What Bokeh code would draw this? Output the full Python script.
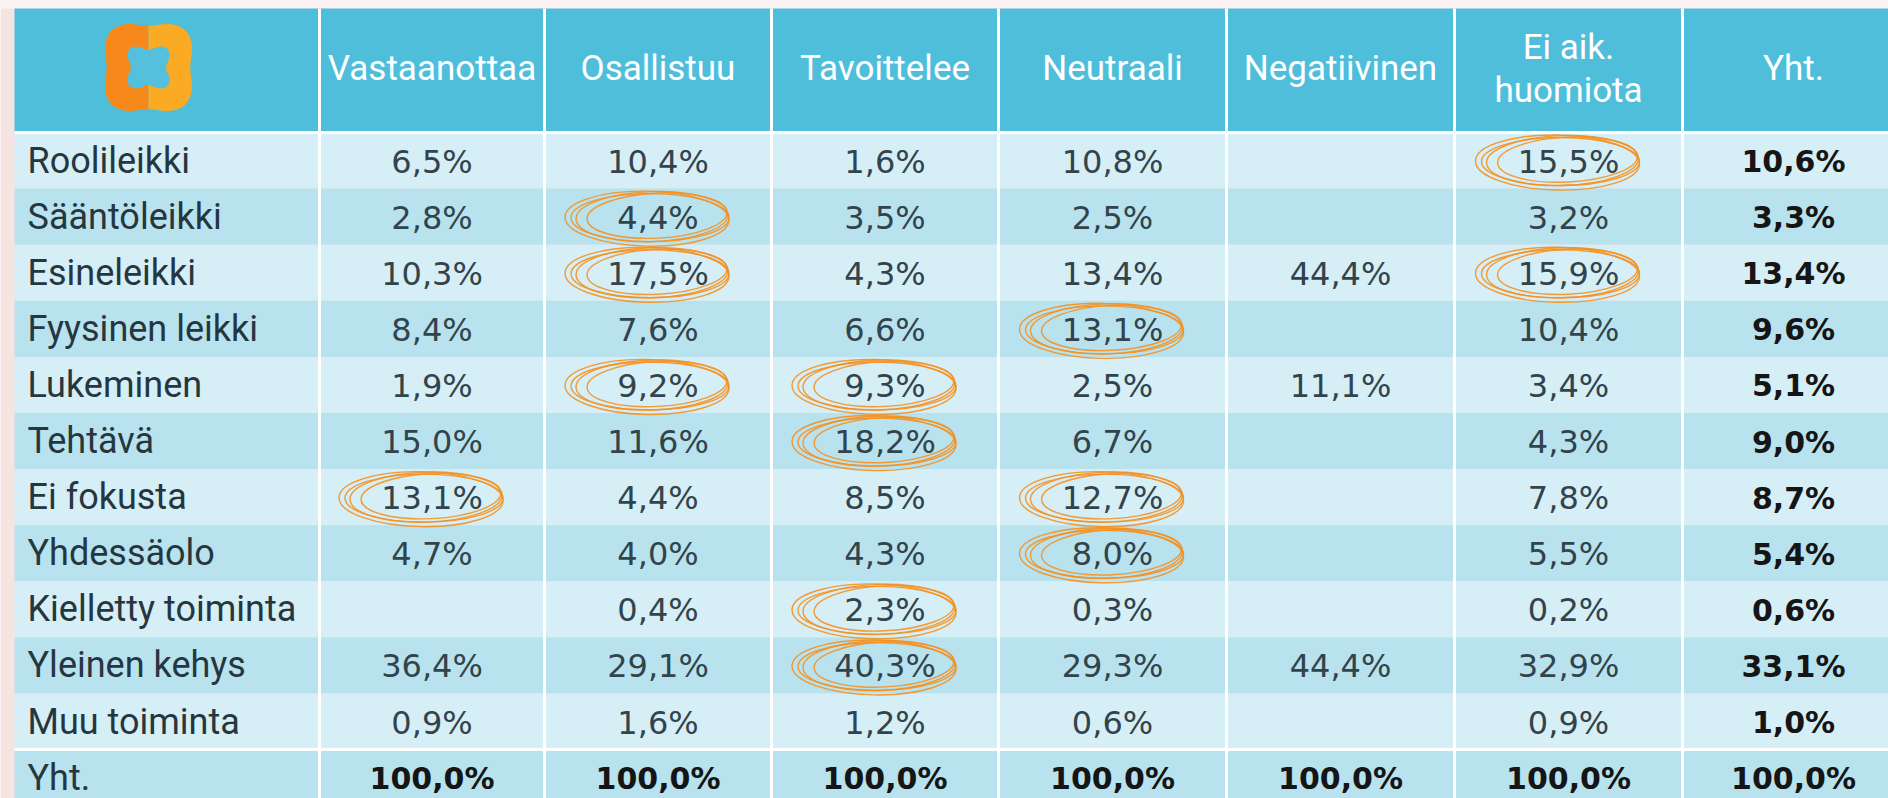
import numpy as np
from bokeh.plotting import figure
from bokeh.models import Range1d
from bokeh.core.properties import value
from bokeh.embed import file_html
from bokeh.resources import INLINE

# ---------------- data ----------------
columns = ["Vastaanottaa", "Osallistuu", "Tavoittelee", "Neutraali",
           "Negatiivinen", "Ei aik.\nhuomiota", "Yht."]
rows = ["Roolileikki", "Sääntöleikki", "Esineleikki", "Fyysinen leikki",
        "Lukeminen", "Tehtävä", "Ei fokusta", "Yhdessäolo",
        "Kielletty toiminta", "Yleinen kehys", "Muu toiminta", "Yht."]

vastaanottaa = [6.5, 2.8, 10.3, 8.4, 1.9, 15.0, 13.1, 4.7, None, 36.4, 0.9, 100.0]
osallistuu = [10.4, 4.4, 17.5, 7.6, 9.2, 11.6, 4.4, 4.0, 0.4, 29.1, 1.6, 100.0]
tavoittelee = [1.6, 3.5, 4.3, 6.6, 9.3, 18.2, 8.5, 4.3, 2.3, 40.3, 1.2, 100.0]
neutraali = [10.8, 2.5, 13.4, 13.1, 2.5, 6.7, 12.7, 8.0, 0.3, 29.3, 0.6, 100.0]
negatiivinen = [None, None, 44.4, None, 11.1, None, None, None, None, 44.4, None, 100.0]
ei_aik_huomiota = [15.5, 3.2, 15.9, 10.4, 3.4, 4.3, 7.8, 5.5, 0.2, 32.9, 0.9, 100.0]
yht = [10.6, 3.3, 13.4, 9.6, 5.1, 9.0, 8.7, 5.4, 0.6, 33.1, 1.0, 100.0]

series = [vastaanottaa, osallistuu, tavoittelee, neutraali,
          negatiivinen, ei_aik_huomiota, yht]

# circled cells: (row index, column index)
circled = [(0, 5), (1, 1), (2, 1), (2, 5), (3, 3), (4, 1), (4, 2),
           (5, 2), (6, 0), (6, 3), (7, 3), (8, 2), (9, 2)]

# ---------------- layout ----------------
W, H = 1888, 798
col_edges = [14, 319, 544, 771, 998, 1226, 1454, 1682, 1904]
table_top = 8
header_bottom = 132
row_h = 56.1

HEADER = "#4FBEDB"
LIGHT = "#D6EEF6"
DARK = "#B8E2EE"
ORANGE = "#F5901F"

p = figure(width=W, height=H, x_range=Range1d(0, W), y_range=Range1d(H, 0),
           output_backend="svg", toolbar_location=None, min_border=0,
           x_axis_location=None, y_axis_location=None)
p.grid.visible = False
p.outline_line_color = None
p.background_fill_color = "#F6E4E2"
p.border_fill_color = "#F6E4E2"

fmt = lambda v: "" if v is None else f"{v:.1f}".replace(".", ",") + "%"

# white strip above table
p.quad(left=[0], right=[W], top=[0], bottom=[table_top],
       fill_color="#FBF3F2", line_color=None)

# header band
p.quad(left=[col_edges[0]], right=[col_edges[-1]], top=[table_top],
       bottom=[header_bottom], fill_color=HEADER, line_color=None)

# body rows
tops = [header_bottom + i * row_h for i in range(len(rows))]
p.quad(left=[col_edges[0]] * len(rows), right=[col_edges[-1]] * len(rows),
       top=tops, bottom=[t + row_h for t in tops],
       fill_color=[LIGHT if i % 2 == 0 else DARK for i in range(len(rows))],
       line_color=None)

# white grid lines
p.segment(x0=col_edges[1:-1], y0=[table_top] * (len(col_edges) - 2),
          x1=col_edges[1:-1], y1=[H] * (len(col_edges) - 2),
          line_color="white", line_width=3)
p.segment(x0=[col_edges[0]] * 2, y0=[header_bottom, tops[-1]],
          x1=[col_edges[-1]] * 2, y1=[header_bottom, tops[-1]],
          line_color="white", line_width=3)

# logo
cx, cy = 148, 67
th_r = np.linspace(-np.pi / 2, np.pi / 2, 80)
th_l = np.linspace(np.pi / 2, 3 * np.pi / 2, 80)
r_out = lambda t: 47 * (1 - 0.11 * np.cos(4 * t))
p.patch(cx + r_out(th_l) * np.cos(th_l), cy + r_out(th_l) * np.sin(th_l),
        fill_color="#F7891A", line_color=None)
p.patch(cx + r_out(th_r) * np.cos(th_r), cy + r_out(th_r) * np.sin(th_r),
        fill_color="#FBAA24", line_color=None)
th = np.linspace(0, 2 * np.pi, 160)
r_in = 22 * (1 - 0.2 * np.cos(4 * th))
p.patch(cx + r_in * np.cos(th), cy + r_in * np.sin(th),
        fill_color="#54C0DE", line_color=None)

centers = [(col_edges[k] + col_edges[k + 1]) / 2 for k in range(1, len(col_edges) - 1)]
row_c = [t + row_h / 2 for t in tops]

# header texts
hx, hy, ht = [], [], []
for c, name in zip(centers, columns):
    parts = name.split("\n")
    if len(parts) == 1:
        hx.append(c); hy.append(68); ht.append(parts[0])
    else:
        for j, part in enumerate(parts):
            hx.append(c); hy.append(47 + 43 * j); ht.append(part)
p.text(hx, hy, ht, text_color="white", text_font=value("Roboto"),
       text_font_size="35px", text_align="center", text_baseline="middle")

# row labels
p.text([27] * len(rows), row_c, rows, text_color="#26363E",
       text_font=value("Roboto"), text_font_size="36px",
       text_align="left", text_baseline="middle")

# values
nx, ny, nt, bx, by, bt = [], [], [], [], [], []
for k, vals in enumerate(series):
    for i, v in enumerate(vals):
        if v is None:
            continue
        if k == len(series) - 1 or i == len(rows) - 1:
            bx.append(centers[k]); by.append(row_c[i] + 1); bt.append(fmt(v))
        else:
            nx.append(centers[k]); ny.append(row_c[i] + 1); nt.append(fmt(v))
p.text(nx, ny, nt, text_color="#33434B", text_font=value("DejaVu Sans"),
       text_font_size="32px", text_align="center", text_baseline="middle")
p.text(bx, by, bt, text_color="#151515", text_font=value("DejaVu Sans"),
       text_font_size="30px", text_font_style="bold",
       text_align="center", text_baseline="middle")

# hand-drawn orange circles
strokes = [(-6, 0, 152, 50, 0.03), (-11, 2, 164, 55, -0.02),
           (-1, -1, 140, 45, 0.05), (-8, 1, 158, 48, 0.0)]
ex, ey, ew, eh, ea = [], [], [], [], []
for (i, k) in circled:
    for dx, dy, w, h, a in strokes:
        ex.append(centers[k] + dx); ey.append(row_c[i] + dy)
        ew.append(w); eh.append(h); ea.append(a)
p.ellipse(x=ex, y=ey, width=ew, height=eh, angle=ea, fill_color=None,
          line_color=ORANGE, line_width=1.4, line_alpha=0.9)

open("out.html", "w").write(file_html(p, INLINE))
